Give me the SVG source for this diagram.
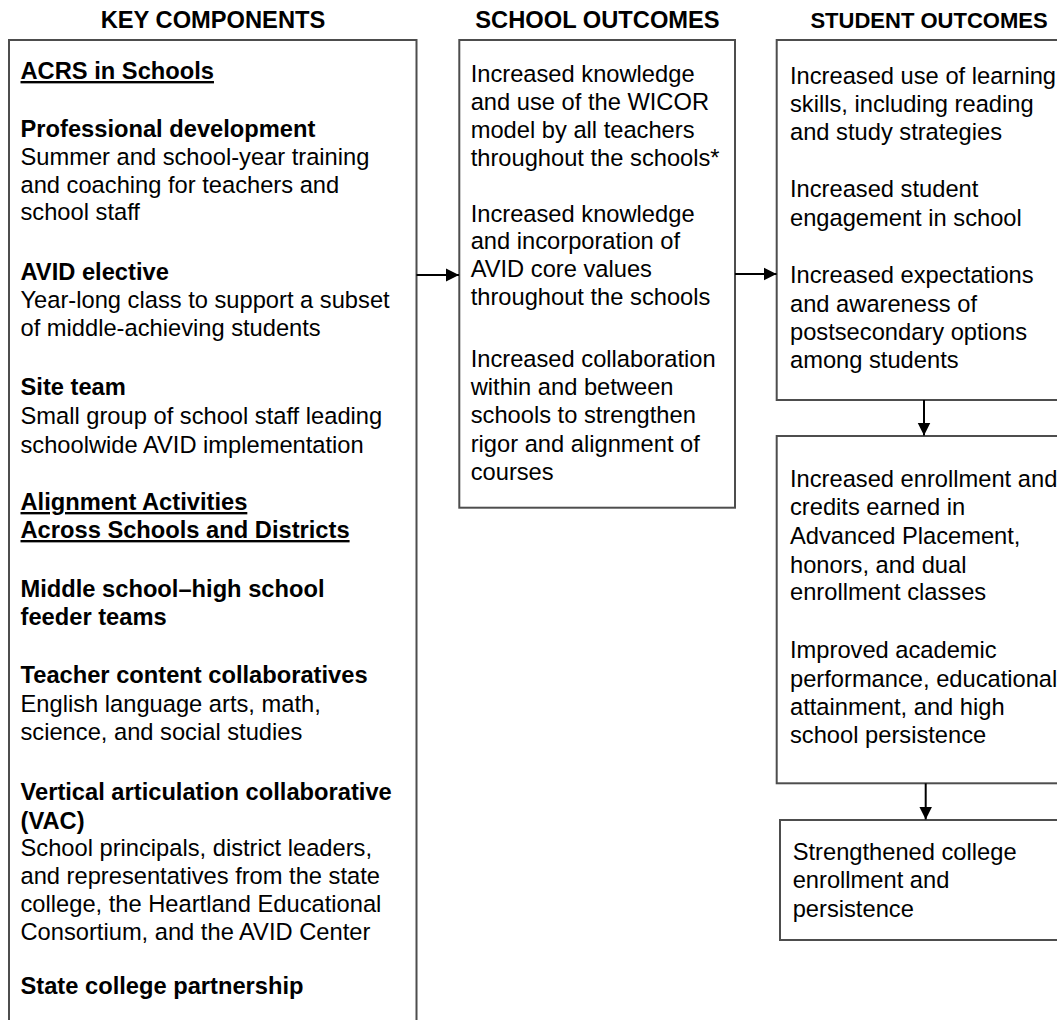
<svg xmlns="http://www.w3.org/2000/svg" width="1057" height="1020" viewBox="0 0 1057 1020">
<style>
text{font-family:"Liberation Sans",Arial,sans-serif;font-size:23.7px;fill:#000}
.h{font-weight:bold;text-anchor:middle}
.b{font-weight:bold}
.u{font-weight:bold;text-decoration:underline}
.box{fill:#fff;stroke:#4d4d4d;stroke-width:2}
.arr{stroke:#000;stroke-width:2;fill:none}
</style>
<defs>
<marker id="ah" markerWidth="14" markerHeight="14" refX="13" refY="7" orient="auto" markerUnits="userSpaceOnUse">
<path d="M0,0.5 L13,7 L0,13.5 Z" fill="#000"/>
</marker>
</defs>
<rect width="1057" height="1020" fill="#fff"/>
<g id="headers">
<text class="h" x="213" y="28">KEY COMPONENTS</text>
<text class="h" x="597.5" y="28">SCHOOL OUTCOMES</text>
<text class="h" x="929" y="28" style="font-size:22px">STUDENT OUTCOMES</text>
</g>
<g id="key-components">
<rect class="box" x="9" y="40" width="407.5" height="1000"/>
<text class="u" x="20.5" y="79">ACRS in Schools</text>
<text class="b" x="20.5" y="137.3">Professional development</text>
<text x="20.5" y="164.5">Summer and school-year training</text>
<text x="20.5" y="192.5">and coaching for teachers and</text>
<text x="20.5" y="220">school staff</text>
<text class="b" x="20.5" y="280">AVID elective</text>
<text x="20.5" y="308">Year-long class to support a subset</text>
<text x="20.5" y="336">of middle-achieving students</text>
<text class="b" x="20.5" y="395">Site team</text>
<text x="20.5" y="424">Small group of school staff leading</text>
<text x="20.5" y="453">schoolwide AVID implementation</text>
<text class="u" x="20.5" y="510">Alignment Activities</text>
<text class="u" x="20.5" y="538">Across Schools and Districts</text>
<text class="b" x="20.5" y="597">Middle school–high school</text>
<text class="b" x="20.5" y="625">feeder teams</text>
<text class="b" x="20.5" y="683">Teacher content collaboratives</text>
<text x="20.5" y="711.5">English language arts, math,</text>
<text x="20.5" y="740">science, and social studies</text>
<text class="b" x="20.5" y="800">Vertical articulation collaborative</text>
<text class="b" x="20.5" y="829">(VAC)</text>
<text x="20.5" y="856">School principals, district leaders,</text>
<text x="20.5" y="883.5">and representatives from the state</text>
<text x="20.5" y="911.5">college, the Heartland Educational</text>
<text x="20.5" y="939.5">Consortium, and the AVID Center</text>
<text class="b" x="20.5" y="994">State college partnership</text>
</g>
<g id="school-outcomes">
<rect class="box" x="459.3" y="40" width="275.7" height="467.7"/>
<text x="470.7" y="81.7">Increased knowledge</text>
<text x="470.7" y="110">and use of the WICOR</text>
<text x="470.7" y="137.7">model by all teachers</text>
<text x="470.7" y="165.7">throughout the schools*</text>
<text x="470.7" y="221.7">Increased knowledge</text>
<text x="470.7" y="249.3">and incorporation of</text>
<text x="470.7" y="277.3">AVID core values</text>
<text x="470.7" y="305">throughout the schools</text>
<text x="470.7" y="366.7">Increased collaboration</text>
<text x="470.7" y="395">within and between</text>
<text x="470.7" y="423.3">schools to strengthen</text>
<text x="470.7" y="451.7">rigor and alignment of</text>
<text x="470.7" y="480">courses</text>
</g>
<g id="student-outcomes-1">
<rect class="box" x="776.7" y="40" width="300" height="360"/>
<text x="790" y="84.3">Increased use of learning</text>
<text x="790" y="112">skills, including reading</text>
<text x="790" y="140">and study strategies</text>
<text x="790" y="197">Increased student</text>
<text x="790" y="226">engagement in school</text>
<text x="790" y="283">Increased expectations</text>
<text x="790" y="311.5">and awareness of</text>
<text x="790" y="340">postsecondary options</text>
<text x="790" y="368">among students</text>
</g>
<g id="student-outcomes-2">
<rect class="box" x="776.7" y="436" width="300" height="347.3"/>
<text x="790" y="486.7">Increased enrollment and</text>
<text x="790" y="515">credits earned in</text>
<text x="790" y="544">Advanced Placement,</text>
<text x="790" y="572.7">honors, and dual</text>
<text x="790" y="600">enrollment classes</text>
<text x="790" y="658.3">Improved academic</text>
<text x="790" y="686.7">performance, educational</text>
<text x="790" y="715">attainment, and high</text>
<text x="790" y="743.3">school persistence</text>
</g>
<g id="student-outcomes-3">
<rect class="box" x="780" y="820" width="300" height="120"/>
<text x="792.7" y="860">Strengthened college</text>
<text x="792.7" y="888.3">enrollment and</text>
<text x="792.7" y="916.7">persistence</text>
</g>
<g id="connectors">
<line class="arr" x1="416.5" y1="275" x2="459" y2="275" marker-end="url(#ah)"/>
<line class="arr" x1="735" y1="274" x2="776.5" y2="274" marker-end="url(#ah)"/>
<line class="arr" x1="924" y1="400" x2="924" y2="435.5" marker-end="url(#ah)"/>
<line class="arr" x1="925.7" y1="783.3" x2="925.7" y2="819.5" marker-end="url(#ah)"/>
</g>
</svg>
